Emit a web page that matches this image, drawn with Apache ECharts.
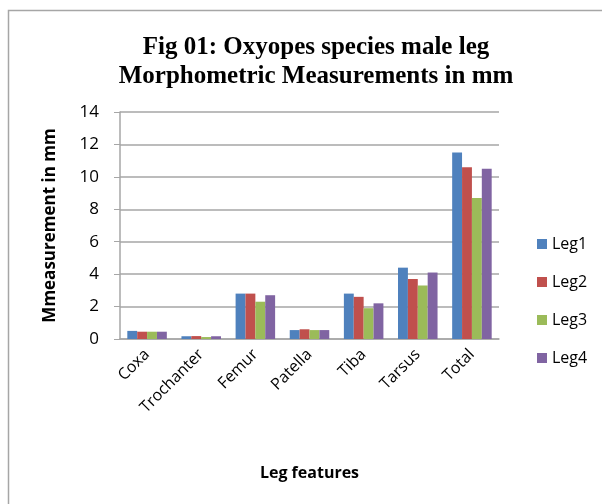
<!DOCTYPE html>
<html>
<head>
<meta charset="utf-8">
<script src="https://cdn.jsdelivr.net/npm/echarts@6/dist/echarts.min.js"></script>
<style>
  html, body { margin: 0; padding: 0; background: #fff; }
  #chart { width: 602px; height: 504px; }
</style>
</head>
<body>
<div id="chart"></div>
<script>
// leg segments on the x axis
const categories = ["Coxa", "Trochanter", "Femur", "Patella", "Tiba", "Tarsus", "Total"];
const seriesNames = ["Leg1", "Leg2", "Leg3", "Leg4"];
const leg1 = [0.5, 0.17, 2.8, 0.55, 2.8, 4.4, 11.5];
const leg2 = [0.45, 0.18, 2.8, 0.6, 2.6, 3.7, 10.6];
const leg3 = [0.45, 0.12, 2.3, 0.55, 1.9, 3.3, 8.7];
const leg4 = [0.45, 0.17, 2.7, 0.55, 2.2, 4.1, 10.5];
const colors = ["#4F81BD", "#C0504D", "#9BBB59", "#8064A2"];

const chart = echarts.init(document.getElementById("chart"));
const font = "Open Sans, Noto Sans, sans-serif";

const option = {
  animation: false,
  color: colors,
  title: {
    text: "Fig 01: Oxyopes species male leg\nMorphometric Measurements in mm",
    left: 311,
    top: 28,
    textAlign: "center",
    textStyle: {
      fontFamily: "Liberation Serif, serif",
      fontWeight: "bold",
      fontSize: 25,
      lineHeight: 29,
      color: "#000"
    }
  },
  graphic: [{
    type: "rect",
    shape: { x: 8.5, y: 10.5, width: 700, height: 600 },
    style: { fill: "none", stroke: "#a6a6a6", lineWidth: 1.5 },
    silent: true
  }],
  legend: {
    orient: "vertical",
    left: 532,
    top: 231,
    itemWidth: 10,
    itemHeight: 10,
    itemGap: 22,
    icon: "rect",
    textStyle: { fontFamily: font, fontSize: 16, color: "#000" },
    data: seriesNames
  },
  grid: { left: 120, right: 103, top: 112, bottom: 165 },
  xAxis: {
    type: "category",
    data: categories,
    name: "Leg features",
    nameLocation: "middle",
    nameGap: 126,
    nameTextStyle: { fontFamily: font, fontSize: 16, fontWeight: "bold", color: "#000" },
    axisLine: { lineStyle: { color: "#a6a6a6", width: 1.5 } },
    axisTick: { show: false },
    axisLabel: { rotate: 45, fontFamily: font, fontSize: 16, color: "#000", margin: 13, interval: 0 }
  },
  yAxis: {
    type: "value",
    min: 0,
    max: 14,
    interval: 2,
    name: "Mmeasurement in mm",
    nameLocation: "middle",
    nameGap: 61,
    nameTextStyle: { fontFamily: font, fontSize: 17, fontWeight: "bold", color: "#000" },
    axisLine: { show: true, lineStyle: { color: "#a6a6a6", width: 1.5 } },
    axisTick: { show: true, inside: false, length: 6, lineStyle: { color: "#a6a6a6" } },
    axisLabel: { fontFamily: font, fontSize: 17, color: "#000", margin: 21 },
    splitLine: { lineStyle: { color: "#a6a6a6", width: 1.5 } }
  },
  series: [leg1, leg2, leg3, leg4].map((vals, i) => ({
    name: seriesNames[i],
    type: "bar",
    data: vals,
    barGap: "0%",
    barCategoryGap: "27%",
    itemStyle: { color: colors[i] }
  }))
};

chart.setOption(option);
</script>
</body>
</html>
